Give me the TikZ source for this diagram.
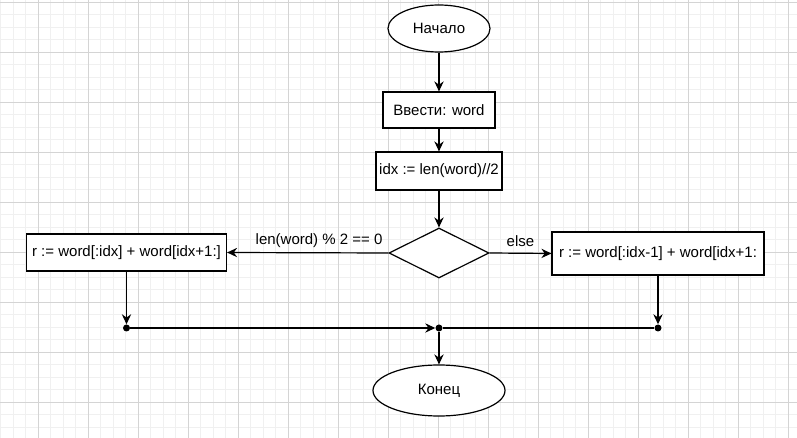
\documentclass[tikz,border=0pt]{standalone}
\usepackage{fontspec}
\setmainfont{Liberation Sans}
\usetikzlibrary{arrows.meta,shapes.geometric}
\definecolor{gridmajor}{RGB}{212,212,212}
\definecolor{gridminor}{RGB}{240,240,240}

\begin{document}
\begin{tikzpicture}[x=0.75pt,y=-0.75pt,
  >={Stealth[length=7.5pt,width=7pt,inset=2.5pt]},
  every node/.style={font=\fontsize{11.25pt}{13pt}\selectfont},
  flow/.style={line width=0.9pt},
  block/.style={draw,line width=0.9pt,rectangle,inner sep=0pt,fill=white},
  term/.style={draw,line width=0.9pt,ellipse,inner sep=0pt,fill=white},
  test/.style={draw,line width=0.9pt,diamond,inner sep=0pt,fill=white},
  joint/.style={circle,fill=black,inner sep=0pt,minimum size=5.25pt}]
\useasboundingbox (0,0) rectangle (797,438);
% grid
\foreach \x in {0.8,13.3,...,797} \draw[gridminor,line width=0.6pt] (\x,0)--(\x,438);
\foreach \y in {2.3,14.8,...,438} \draw[gridminor,line width=0.6pt] (0,\y)--(797,\y);
\foreach \x in {38.3,88.3,...,797} \draw[gridmajor,line width=0.6pt] (\x,0)--(\x,438);
\foreach \y in {2.3,52.3,...,438} \draw[gridmajor,line width=0.6pt] (0,\y)--(797,\y);

% blocks
\node[term,minimum width=76.5pt,minimum height=35.25pt] (start) at (439,28.5) {Начало};
\node[block,minimum width=84pt,minimum height=27pt] (input) at (439,110) {Ввести: word};
\node[block,minimum width=94.5pt,minimum height=28.5pt] (half) at (439,171) {idx := len(word)//2};
\node[test,minimum width=75pt,minimum height=37.5pt] (check) at (439,253) {};
\node[block,minimum width=150pt,minimum height=27.75pt] (even) at (126.5,252.5) {r := word[:idx] + word[idx+1:]};
\node[block,minimum width=159pt,minimum height=32.25pt] (odd) at (658,253.5) {r := word[:idx-1] + word[idx+1:};
\node[term,minimum width=99pt,minimum height=38.25pt] (stop) at (439,390.5) {Конец};

% joints
\node[joint] (jl) at (126.5,328) {};
\node[joint] (jc) at (439,328) {};
\node[joint] (jr) at (658,328) {};

% connectors
\draw[flow,->] (start) -- (input);
\draw[flow,->] (input) -- (half);
\draw[flow,->] (half) -- (check);
\draw[flow,->] (check.west) -- (even.east) node[above,pos=0.43] {len(word) \% 2 == 0};
\draw[flow,->] (check.east) -- (odd.west) node[above,midway,yshift=1.5pt] {else};
\draw[flow,->] (even) -- (jl);
\draw[flow,->] (odd) -- (jr);
\draw[flow,->] (jl) -- (jc);
\draw[flow] (jr) -- (jc);
\draw[flow,->] (jc) -- (stop);
\end{tikzpicture}
\end{document}
